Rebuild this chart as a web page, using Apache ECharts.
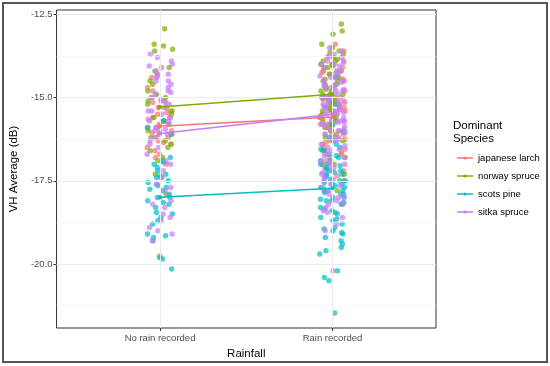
<!DOCTYPE html>
<html>
<head>
<meta charset="utf-8">
<script src="https://cdn.jsdelivr.net/npm/echarts@6/dist/echarts.min.js"></script>
<style>html,body{margin:0;padding:0;background:#fff}#c{width:550px;height:366px}</style>
</head>
<body>
<div id="c"></div>
<script>
var categories = ['No rain recorded', 'Rain recorded'];
var species = ['japanese larch', 'norway spruce', 'scots pine', 'sitka spruce'];
var colors = ['#F8766D', '#7CAE00', '#00BFC4', '#C77CFF'];
var yTicks = [-20.0, -17.5, -15.0, -12.5];
var yMinorGrid = [-21.25, -18.75, -16.25, -13.75];

// species means per category (lines)
var meanLarch = [-15.86, -15.58];
var meanNorway = [-15.28, -14.90];
var meanScots = [-17.99, -17.72];
var meanSitka = [-16.08, -15.50];

// observations, No rain recorded
var larchNoRain = [-14.4, -14.7, -14.8, -15.0, -15.1, -15.3, -15.4, -15.5, -15.6, -15.7, -15.7, -15.8, -15.9, -15.9, -16.0, -16.0, -16.1, -16.2, -16.3, -16.4, -16.5, -16.6, -16.8, -17.0, -16.2, -15.6, -15.3, -19.76, -15.45, -15.85, -16.05, -16.35, -15.15, -16.7];
var norwayNoRain = [-12.93, -13.4, -13.45, -13.55, -13.6, -14.1, -14.3, -14.5, -14.6, -14.8, -15.0, -15.1, -15.3, -15.4, -15.5, -15.6, -15.8, -16.0, -16.2, -16.3, -16.5, -16.6, -16.8, -16.9, -17.3, -17.4, -17.9, -14.2, -15.2, -15.7, -16.1, -14.9, -16.4];
var scotsNoRain = [-15.7, -15.9, -16.1, -16.9, -17.0, -17.1, -17.2, -17.3, -17.4, -17.5, -17.55, -17.6, -17.7, -17.8, -17.9, -18.0, -18.0, -18.1, -18.2, -18.3, -18.5, -18.6, -18.7, -18.8, -19.1, -19.15, -19.2, -19.3, -19.8, -19.85, -20.15, -16.8, -17.65, -17.35, -17.75, -18.15, -18.45, -16.95];
var sitkaNoRain = [-13.7, -13.8, -13.9, -14.0, -14.1, -14.2, -14.3, -14.4, -14.5, -14.6, -14.7, -14.8, -14.9, -15.0, -15.05, -15.1, -15.2, -15.3, -15.4, -15.5, -15.6, -15.7, -15.8, -15.9, -16.0, -16.1, -16.2, -16.3, -16.5, -16.7, -16.9, -17.2, -17.4, -17.6, -17.8, -18.0, -18.1, -18.3, -18.5, -18.7, -18.9, -19.0, -19.1, -19.3, -14.5, -15.4, -14.05, -14.35, -14.85, -15.15, -15.65, -15.95, -16.4, -17.0, -17.7, -18.2, -18.6];

// observations, Rain recorded
var larchRain = [-13.4, -13.6, -13.8, -14.0, -14.2, -14.3, -14.4, -14.6, -14.7, -14.8, -14.9, -15.0, -15.0, -15.1, -15.2, -15.2, -15.3, -15.3, -15.4, -15.4, -15.5, -15.5, -15.6, -15.6, -15.7, -15.7, -15.8, -15.8, -15.9, -15.9, -16.0, -16.0, -16.1, -16.1, -16.2, -16.3, -16.4, -16.5, -16.6, -16.7, -16.8, -17.0, -17.2, -17.5, -17.8, -18.2, -15.1, -15.45, -15.65, -14.5, -14.1, -16.25, -15.35, -15.75, -16.9, -14.25, -14.65, -15.05, -15.55, -15.85, -16.05, -16.35, -16.55, -15.25, -14.95, -15.15, -16.65, -17.1, -17.35, -13.9, -14.45];
var norwayRain = [-12.79, -13.0, -13.1, -13.4, -13.5, -13.6, -13.7, -13.8, -13.9, -14.0, -14.0, -14.1, -14.2, -14.3, -14.4, -14.5, -14.5, -14.6, -14.7, -14.8, -14.8, -14.9, -14.9, -15.0, -15.0, -15.1, -15.1, -15.2, -15.3, -15.4, -15.5, -15.6, -15.7, -15.8, -15.9, -16.0, -16.1, -16.3, -16.6, -16.8, -17.0, -17.3, -17.8, -14.2, -14.6, -15.2, -14.1, -13.9, -15.4, -14.9, -13.85, -14.35, -14.75, -15.05, -15.35, -14.45, -13.65, -15.65, -16.2, -14.05];
var scotsRain = [-14.4, -15.8, -16.0, -16.3, -16.5, -16.6, -16.7, -16.8, -16.9, -17.0, -17.0, -17.1, -17.2, -17.2, -17.3, -17.3, -17.4, -17.5, -17.5, -17.6, -17.6, -17.7, -17.7, -17.8, -17.8, -17.9, -17.9, -18.0, -18.0, -18.1, -18.1, -18.2, -18.3, -18.4, -18.5, -18.6, -18.7, -18.8, -18.9, -19.0, -19.1, -19.2, -19.3, -19.4, -19.5, -19.6, -19.7, -20.2, -20.4, -20.5, -21.47, -16.2, -16.9, -17.45, -18.35, -15.2, -16.4, -17.15, -17.55, -18.05, -17.05, -17.35, -17.65, -17.85, -18.15, -18.45, -18.65, -18.95, -17.25, -16.75, -16.55, -19.05];
var sitkaRain = [-13.5, -13.6, -13.7, -13.8, -13.9, -14.0, -14.0, -14.1, -14.2, -14.2, -14.3, -14.4, -14.4, -14.5, -14.5, -14.6, -14.6, -14.7, -14.7, -14.8, -14.8, -14.9, -14.9, -15.0, -15.0, -15.1, -15.1, -15.2, -15.2, -15.3, -15.3, -15.4, -15.4, -15.5, -15.5, -15.6, -15.6, -15.7, -15.7, -15.8, -15.8, -15.9, -16.0, -16.0, -16.1, -16.2, -16.3, -16.4, -16.5, -16.6, -16.7, -16.8, -16.9, -17.0, -17.1, -17.2, -17.3, -17.4, -17.5, -17.6, -17.7, -17.8, -17.9, -18.0, -18.1, -18.2, -18.3, -18.4, -18.6, -18.8, -19.0, -20.2, -14.35, -15.05, -15.45, -15.95, -16.15, -16.45, -17.05, -13.75, -14.05, -14.25, -14.55, -14.75, -15.15, -15.25, -15.35, -15.65, -15.85, -16.05, -16.25, -16.55, -16.75, -16.95, -17.25, -17.45, -17.65, -17.95, -18.15, -18.45, -13.95, -14.65, -15.75];

var noRainSets = [larchNoRain, norwayNoRain, scotsNoRain, sitkaNoRain];
var rainSets = [larchRain, norwayRain, scotsRain, sitkaRain];
var meanSets = [meanLarch, meanNorway, meanScots, meanSitka];

// deterministic horizontal jitter (position only, not data)
function jitter(i, s, c) {
  var k = i * 7.13 + s * 131.7 + c * 977.3;
  var x = Math.sin(k * 12.9898 + 78.233) * 43758.5453;
  return (x - Math.floor(x) - 0.5) * 0.15;
}

var legendIcon = 'path://M0,4.35H16V5.65H0Z M9.6,5A1.6,1.6,0,1,1,6.4,5A1.6,1.6,0,1,1,9.6,5Z';

var series = [];
// mean lines first (legend icons come from them)
species.forEach(function (name, s) {
  series.push({
    name: name, type: 'line', data: [[1, meanSets[s][0]], [2, meanSets[s][1]]],
    symbol: 'circle', symbolSize: 4, z: 5,
    lineStyle: {color: colors[s], width: 1.5}, itemStyle: {color: colors[s]}
  });
});
species.forEach(function (name, s) {
  var pts = [];
  noRainSets[s].forEach(function (v, i) { pts.push([1 + jitter(i, s, 0), v]); });
  rainSets[s].forEach(function (v, i) { pts.push([2 + jitter(i, s, 1), v]); });
  series.push({
    name: name, type: 'scatter', data: pts, symbolSize: 5.5, z: 2,
    itemStyle: {color: colors[s], opacity: 0.7}
  });
});
// grid lines
series.push({
  type: 'line', data: [], silent: true, z: 0,
  markLine: {
    silent: true, symbol: 'none', label: {show: false}, animation: false,
    data: yTicks.map(function (v) { return {yAxis: v, lineStyle: {color: '#ebebeb', width: 1, type: 'solid'}}; })
      .concat(yMinorGrid.map(function (v) { return {yAxis: v, lineStyle: {color: '#f3f3f3', width: 0.6, type: 'solid'}}; }))
      .concat([1, 2].map(function (v) { return {xAxis: v, lineStyle: {color: '#ebebeb', width: 1, type: 'solid'}}; }))
  }
});

var chart = echarts.init(document.getElementById('c'), null, {renderer: 'canvas'});
chart.setOption({
  animation: false,
  backgroundColor: '#fff',
  grid: {left: 51, top: 10, right: 114, bottom: 38, show: true, borderColor: '#333', borderWidth: 1, backgroundColor: '#fff'},
  xAxis: {
    type: 'value', min: 0.4, max: 2.6,
    name: 'Rainfall', nameLocation: 'middle', nameGap: 20,
    nameTextStyle: {fontFamily: 'Liberation Sans', fontSize: 11.5, color: '#000'},
    axisLine: {show: false},
    axisTick: {show: true, customValues: [1, 2], length: 3, lineStyle: {color: '#333'}},
    axisLabel: {customValues: [1, 2], formatter: function (v) { return categories[Math.round(v) - 1]; },
      fontFamily: 'Liberation Sans', fontSize: 9.5, color: '#4d4d4d', margin: 5},
    splitLine: {show: false}
  },
  yAxis: {
    type: 'value', min: -21.92, max: -12.37,
    name: 'VH Average (dB)', nameLocation: 'middle', nameGap: 28, nameRotate: 90,
    nameTextStyle: {fontFamily: 'Liberation Sans', fontSize: 11.5, color: '#000'},
    axisLine: {show: false},
    axisTick: {show: true, customValues: yTicks, length: 3, lineStyle: {color: '#333'}},
    axisLabel: {customValues: yTicks, formatter: function (v) { return v.toFixed(1); },
      fontFamily: 'Liberation Sans', fontSize: 9.5, color: '#4d4d4d', margin: 4},
    splitLine: {show: false}
  },
  legend: {
    data: species.map(function (n) { return {name: n, icon: legendIcon}; }),
    orient: 'vertical', left: 452, top: 148,
    itemWidth: 16, itemHeight: 10, itemGap: 8,
    textStyle: {fontFamily: 'Liberation Sans', fontSize: 9.5, color: '#000'}
  },
  graphic: [
    {type: 'text', left: 453, top: 119, style: {text: 'Dominant\nSpecies', font: '11.5px "Liberation Sans"', fill: '#000', lineHeight: 13}},
    {type: 'rect', shape: {x: 3, y: 3, width: 544, height: 359}, style: {fill: 'none', stroke: '#555', lineWidth: 2}, z: 100}
  ],
  series: series
});
</script>
</body>
</html>
